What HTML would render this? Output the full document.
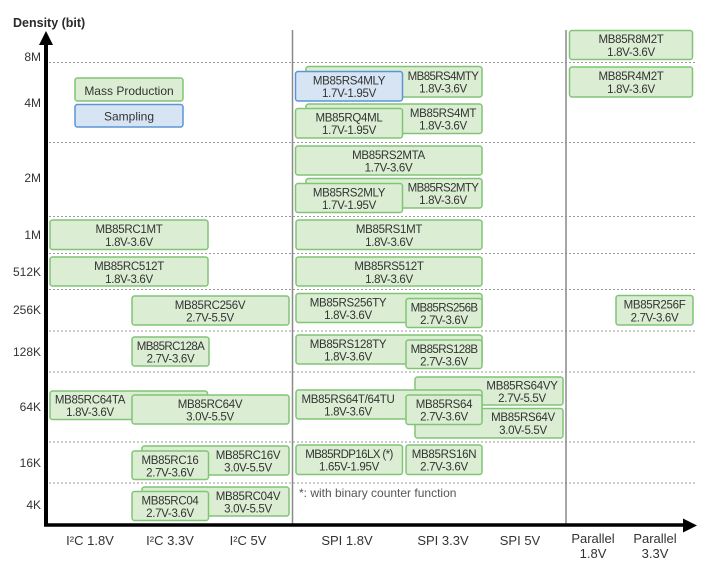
<!DOCTYPE html>
<html><head><meta charset="utf-8"><style>
html,body{margin:0;padding:0;background:#fff;}
svg{display:block;}
text{font-family:"Liberation Sans",sans-serif;fill:#333;}
.b text{font-size:11.5px;letter-spacing:-0.3px;text-anchor:middle;}
.b text.n{letter-spacing:-0.6px;}
.g{fill:#dbeed3;stroke:#82c476;stroke-width:1.5;}
.u{fill:#d7e4f4;stroke:#5b95d6;stroke-width:1.5;}
.yl{font-size:12px;text-anchor:end;}
.xl{font-size:13px;text-anchor:middle;}
</style></head><body>
<svg width="708" height="566" viewBox="0 0 708 566" xmlns="http://www.w3.org/2000/svg">
<rect width="708" height="566" fill="#fff"/>
<text x="13" y="27" style="font-size:12.5px;font-weight:bold;fill:#2a2a2a">Density (bit)</text>

<!-- dashed grid -->
<g stroke="#9a9a9a" stroke-width="1" stroke-dasharray="2,2">
<line x1="49" y1="62.5" x2="695" y2="62.5"/>
<line x1="49" y1="142.5" x2="695" y2="142.5"/>
<line x1="49" y1="216.5" x2="695" y2="216.5"/>
<line x1="49" y1="253.5" x2="695" y2="253.5"/>
<line x1="49" y1="289.5" x2="695" y2="289.5"/>
<line x1="49" y1="331" x2="695" y2="331"/>
<line x1="49" y1="372" x2="695" y2="372"/>
<line x1="49" y1="442" x2="695" y2="442"/>
<line x1="49" y1="483" x2="695" y2="483"/>
</g>
<!-- vertical separators -->
<line x1="292.5" y1="30" x2="292.5" y2="524" stroke="#8a8a8a" stroke-width="1.5"/>
<line x1="566" y1="30" x2="566" y2="524" stroke="#8a8a8a" stroke-width="1.5"/>

<!-- y labels -->
<g class="yl">
<text class="yl" x="41" y="61">8M</text>
<text class="yl" x="41" y="107">4M</text>
<text class="yl" x="41" y="182">2M</text>
<text class="yl" x="41" y="239">1M</text>
<text class="yl" x="41" y="276">512K</text>
<text class="yl" x="41" y="314">256K</text>
<text class="yl" x="41" y="356">128K</text>
<text class="yl" x="41" y="411">64K</text>
<text class="yl" x="41" y="467">16K</text>
<text class="yl" x="41" y="509">4K</text>
</g>

<g class="b">
<!-- legend -->
<rect class="g" x="75" y="78" width="108" height="23" rx="2.5"/>
<text x="129" y="95" style="font-size:12px;letter-spacing:0">Mass Production</text>
<rect class="u" x="75" y="104.5" width="108" height="22.5" rx="2.5"/>
<text x="129" y="120.5" style="font-size:12px;letter-spacing:0">Sampling</text>

<!-- Parallel -->
<rect class="g" x="569.5" y="30.5" width="123" height="29" rx="2.5"/>
<text x="631" y="43">MB85R8M2T</text><text x="631" y="56">1.8V-3.6V</text>
<rect class="g" x="569.5" y="67" width="123" height="30" rx="2.5"/>
<text x="631" y="80">MB85R4M2T</text><text x="631" y="93">1.8V-3.6V</text>
<rect class="g" x="616" y="295.5" width="77" height="29.5" rx="2.5"/>
<text x="654.5" y="308.5">MB85R256F</text><text x="654.5" y="321.5">2.7V-3.6V</text>

<!-- SPI -->
<rect class="g" x="306" y="66.5" width="176" height="30.5" rx="2.5"/>
<text class="n" x="443" y="80">MB85RS4MTY</text><text x="443" y="92.5">1.8V-3.6V</text>
<rect class="u" x="295.5" y="71.5" width="107" height="29.5" rx="2.5"/>
<text x="349" y="84.5">MB85RS4MLY</text><text x="349" y="97">1.7V-1.95V</text>

<rect class="g" x="306" y="104" width="176" height="29.5" rx="2.5"/>
<text x="443" y="117">MB85RS4MT</text><text x="443" y="129.5">1.8V-3.6V</text>
<rect class="g" x="295.5" y="108.5" width="107" height="29.5" rx="2.5"/>
<text x="349" y="121.5">MB85RQ4ML</text><text x="349" y="134">1.7V-1.95V</text>

<rect class="g" x="295.5" y="146" width="186.5" height="29" rx="2.5"/>
<text x="388.5" y="159">MB85RS2MTA</text><text x="388.5" y="171.5">1.7V-3.6V</text>

<rect class="g" x="306" y="178.5" width="176" height="29.5" rx="2.5"/>
<text class="n" x="443" y="191.5">MB85RS2MTY</text><text x="443" y="204">1.8V-3.6V</text>
<rect class="g" x="295.5" y="183.5" width="107" height="29" rx="2.5"/>
<text x="349" y="196.5">MB85RS2MLY</text><text x="349" y="209">1.7V-1.95V</text>

<rect class="g" x="296" y="220" width="186" height="29.5" rx="2.5"/>
<text x="389" y="233">MB85RS1MT</text><text x="389" y="246">1.8V-3.6V</text>
<rect class="g" x="296" y="257" width="186" height="29" rx="2.5"/>
<text x="389" y="270">MB85RS512T</text><text x="389" y="283">1.8V-3.6V</text>

<rect class="g" x="296" y="293.5" width="186" height="29" rx="2.5"/>
<text x="348" y="306.5">MB85RS256TY</text><text x="348" y="319">1.8V-3.6V</text>
<rect class="g" x="406" y="298.5" width="76" height="29" rx="2.5"/>
<text class="n" x="444" y="311.5">MB85RS256B</text><text x="444" y="324">2.7V-3.6V</text>

<rect class="g" x="296" y="335" width="186" height="29" rx="2.5"/>
<text x="348" y="348">MB85RS128TY</text><text x="348" y="360.5">1.8V-3.6V</text>
<rect class="g" x="406" y="340" width="76" height="28.5" rx="2.5"/>
<text class="n" x="444" y="353">MB85RS128B</text><text x="444" y="365.5">2.7V-3.6V</text>

<rect class="g" x="415" y="377" width="148" height="28" rx="2.5"/>
<text x="522" y="389.5">MB85RS64VY</text><text x="522" y="402">2.7V-5.5V</text>
<rect class="g" x="415" y="408.5" width="148" height="29.5" rx="2.5"/>
<text x="523" y="421">MB85RS64V</text><text x="523" y="434">3.0V-5.5V</text>
<rect class="g" x="296" y="390" width="186" height="29" rx="2.5"/>
<text x="348" y="403">MB85RS64T/64TU</text><text x="348" y="415.5">1.8V-3.6V</text>
<rect class="g" x="406" y="395" width="76" height="29.5" rx="2.5"/>
<text x="444" y="408">MB85RS64</text><text x="444" y="420.5">2.7V-3.6V</text>

<rect class="g" x="296" y="445" width="106.5" height="29.5" rx="2.5"/>
<text class="n" x="349" y="458">MB85RDP16LX (*)</text><text x="349" y="470.5">1.65V-1.95V</text>
<rect class="g" x="406" y="445" width="76" height="29.5" rx="2.5"/>
<text x="444" y="458">MB85RS16N</text><text x="444" y="470.5">2.7V-3.6V</text>

<!-- I2C -->
<rect class="g" x="50" y="220" width="158" height="29.5" rx="2.5"/>
<text x="129" y="233">MB85RC1MT</text><text x="129" y="246">1.8V-3.6V</text>
<rect class="g" x="50" y="257" width="158" height="29" rx="2.5"/>
<text x="129" y="270">MB85RC512T</text><text x="129" y="283">1.8V-3.6V</text>
<rect class="g" x="132" y="296" width="157" height="29" rx="2.5"/>
<text x="210" y="309">MB85RC256V</text><text x="210" y="321.5">2.7V-5.5V</text>
<rect class="g" x="132" y="337" width="77" height="29" rx="2.5"/>
<text class="n" x="170.5" y="350">MB85RC128A</text><text x="170.5" y="362.5">2.7V-3.6V</text>

<rect class="g" x="50" y="391" width="157.5" height="28.5" rx="2.5"/>
<text x="90" y="403.5">MB85RC64TA</text><text x="90" y="416">1.8V-3.6V</text>
<rect class="g" x="132" y="395" width="157" height="29" rx="2.5"/>
<text x="210" y="408">MB85RC64V</text><text x="210" y="420.5">3.0V-5.5V</text>

<rect class="g" x="142" y="446" width="147" height="29" rx="2.5"/>
<text x="248" y="459">MB85RC16V</text><text x="248" y="471.5">3.0V-5.5V</text>
<rect class="g" x="132" y="451" width="76.5" height="28.5" rx="2.5"/>
<text x="170" y="464">MB85RC16</text><text x="170" y="476.5">2.7V-3.6V</text>

<rect class="g" x="142" y="487" width="147" height="29" rx="2.5"/>
<text x="248" y="500">MB85RC04V</text><text x="248" y="512.5">3.0V-5.5V</text>
<rect class="g" x="132" y="491.5" width="76.5" height="29" rx="2.5"/>
<text x="170" y="504.5">MB85RC04</text><text x="170" y="517">2.7V-3.6V</text>
</g>

<text x="299" y="497" style="font-size:12px;fill:#555">*: with binary counter function</text>

<!-- axes -->
<line x1="46" y1="42" x2="46" y2="526.5" stroke="#000" stroke-width="4"/>
<polygon points="46,31 39,45 53,45" fill="#000"/>
<line x1="44" y1="525" x2="686" y2="525" stroke="#000" stroke-width="3.5"/>
<polygon points="697,525.5 683,518.5 683,532.5" fill="#000"/>

<!-- x labels -->
<text class="xl" x="90" y="545">I²C 1.8V</text>
<text class="xl" x="170" y="545">I²C 3.3V</text>
<text class="xl" x="248" y="545">I²C 5V</text>
<text class="xl" x="347" y="545">SPI 1.8V</text>
<text class="xl" x="443" y="545">SPI 3.3V</text>
<text class="xl" x="520" y="545">SPI 5V</text>
<text class="xl" x="593" y="543">Parallel</text>
<text class="xl" x="593" y="558">1.8V</text>
<text class="xl" x="655" y="543">Parallel</text>
<text class="xl" x="655" y="558">3.3V</text>
</svg>
</body></html>
